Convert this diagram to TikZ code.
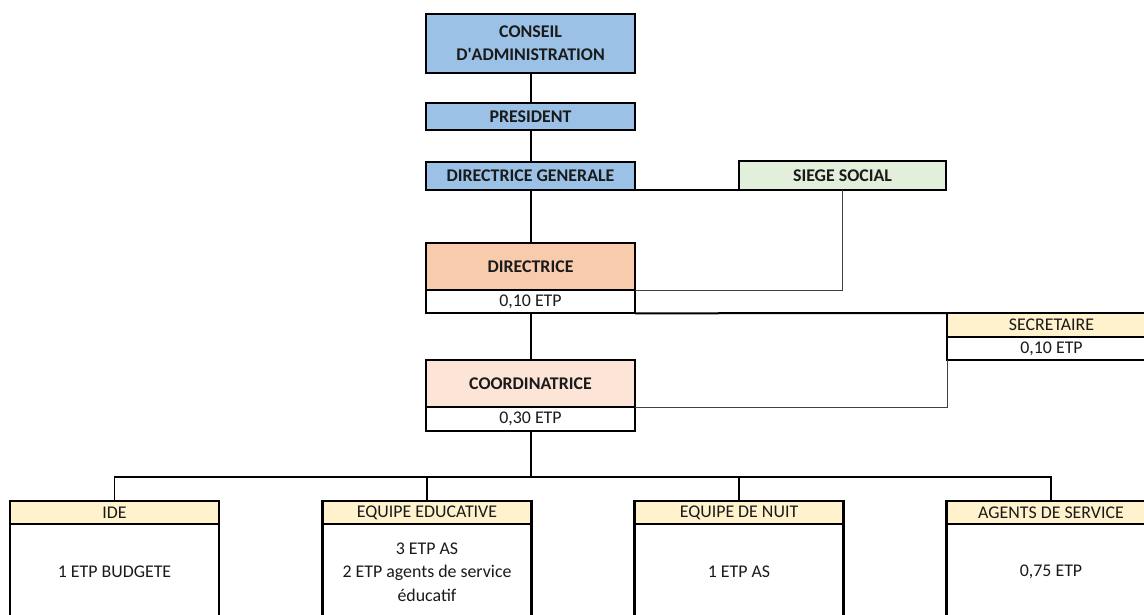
\documentclass[tikz,border=0pt]{standalone}
\usepackage{fontspec}
\setmainfont{Carlito}
\usetikzlibrary{positioning}
\definecolor{chiefblue}{HTML}{9BC2E6}
\definecolor{siegegreen}{HTML}{E2EFDA}
\definecolor{dirorange}{HTML}{F8CBAD}
\definecolor{coordpeach}{HTML}{FCE4D6}
\definecolor{headyellow}{HTML}{FFF2CC}
\definecolor{linkgrey}{HTML}{404040}
\definecolor{inkblack}{HTML}{1A1A1A}

\begin{document}
\begin{tikzpicture}[x=0.75pt,y=-0.75pt,
  every node/.style={font=\fontsize{13.4}{17.5}\selectfont,text=inkblack,inner sep=0pt,outer sep=0pt,align=center},
  bluebox/.style={draw,line width=1.7pt,fill=chiefblue,minimum width=156.75pt,font=\fontsize{13.4}{17.5}\selectfont\bfseries},
  headbox/.style={draw,line width=1.7pt,minimum width=156.75pt,minimum height=35.25pt,font=\fontsize{13.4}{17.5}\selectfont\bfseries},
  etpbox/.style={draw,line width=1.7pt,fill=white,minimum width=156.75pt,minimum height=17.5pt},
  servbox/.style={draw,line width=1.7pt,fill=headyellow,minimum width=156.75pt,minimum height=17.5pt},
  trunk/.style={line width=1.5pt},
  busline/.style={line width=1pt},
  link/.style={line width=0.75pt,draw=linkgrey}]

\clip (0,0) rectangle (1144,614);

% direction
\node [bluebox,minimum height=44.25pt] (conseil) at (530.5,43.5) {CONSEIL\\D\textquotesingle ADMINISTRATION};
\node [bluebox,minimum height=20.25pt] (president) at (530.5,116.5) {PRESIDENT};
\node [bluebox,minimum height=21pt] (dg) at (530.5,176) {DIRECTRICE GENERALE};
\node [draw,line width=0.9pt,fill=siegegreen,minimum width=155.25pt,minimum height=21.75pt,
       font=\fontsize{13.4}{17.5}\selectfont\bfseries] (siege) at (842.5,175.5) {SIEGE SOCIAL};

% etablissement
\node [headbox,fill=dirorange] (dir) at (530.5,266.5) {DIRECTRICE};
\node [etpbox,below=0pt of dir] (dirEtp) {0,10 ETP};
\node [headbox,fill=coordpeach] (coord) at (530.5,383.5) {COORDINATRICE};
\node [etpbox,minimum height=18pt,below=0pt of coord] (coordEtp) {0,30 ETP};
\node [servbox,minimum height=18pt] (secr) at (1051.5,325) {SECRETAIRE};
\node [etpbox,minimum height=17.25pt,below=0pt of secr] (secrEtp) {0,10 ETP};

\draw [trunk] (conseil) -- (president);
\draw [trunk] (president) -- (dg);
\draw [trunk] (dg) -- (dir);
\draw [trunk] (dirEtp) -- (coord);
\draw [line width=0.9pt] (dg.south east) -- (siege.south west);
\draw [line width=1.5pt] (dirEtp.south east) -- (secr.north west);
\draw [link] (siege.south) |- (dir.south east);
\draw [link] (secrEtp.south west) |- (coord.south east);

% equipes
\coordinate (bus) at (530.5,477);
\draw [trunk] (coordEtp) -- (bus);

\foreach \i / \x / \head / \body in {1/114.5/{IDE}/{1 ETP BUDGETE},
    2/427/{EQUIPE EDUCATIVE}/{3 ETP AS\\2 ETP agents de service\\éducatif},
    3/739/{EQUIPE DE NUIT}/{1 ETP AS},
    4/1051/{AGENTS DE SERVICE}/{0,75 ETP}}
{
  \node [servbox,minimum height=17.25pt] (h\i) at (\x,512.5) {\head};
  \node [etpbox,minimum height=72pt,below=0pt of h\i] (b\i) {\body};
  \draw [busline] (bus) -| (h\i.north);
}

\end{tikzpicture}
\end{document}
